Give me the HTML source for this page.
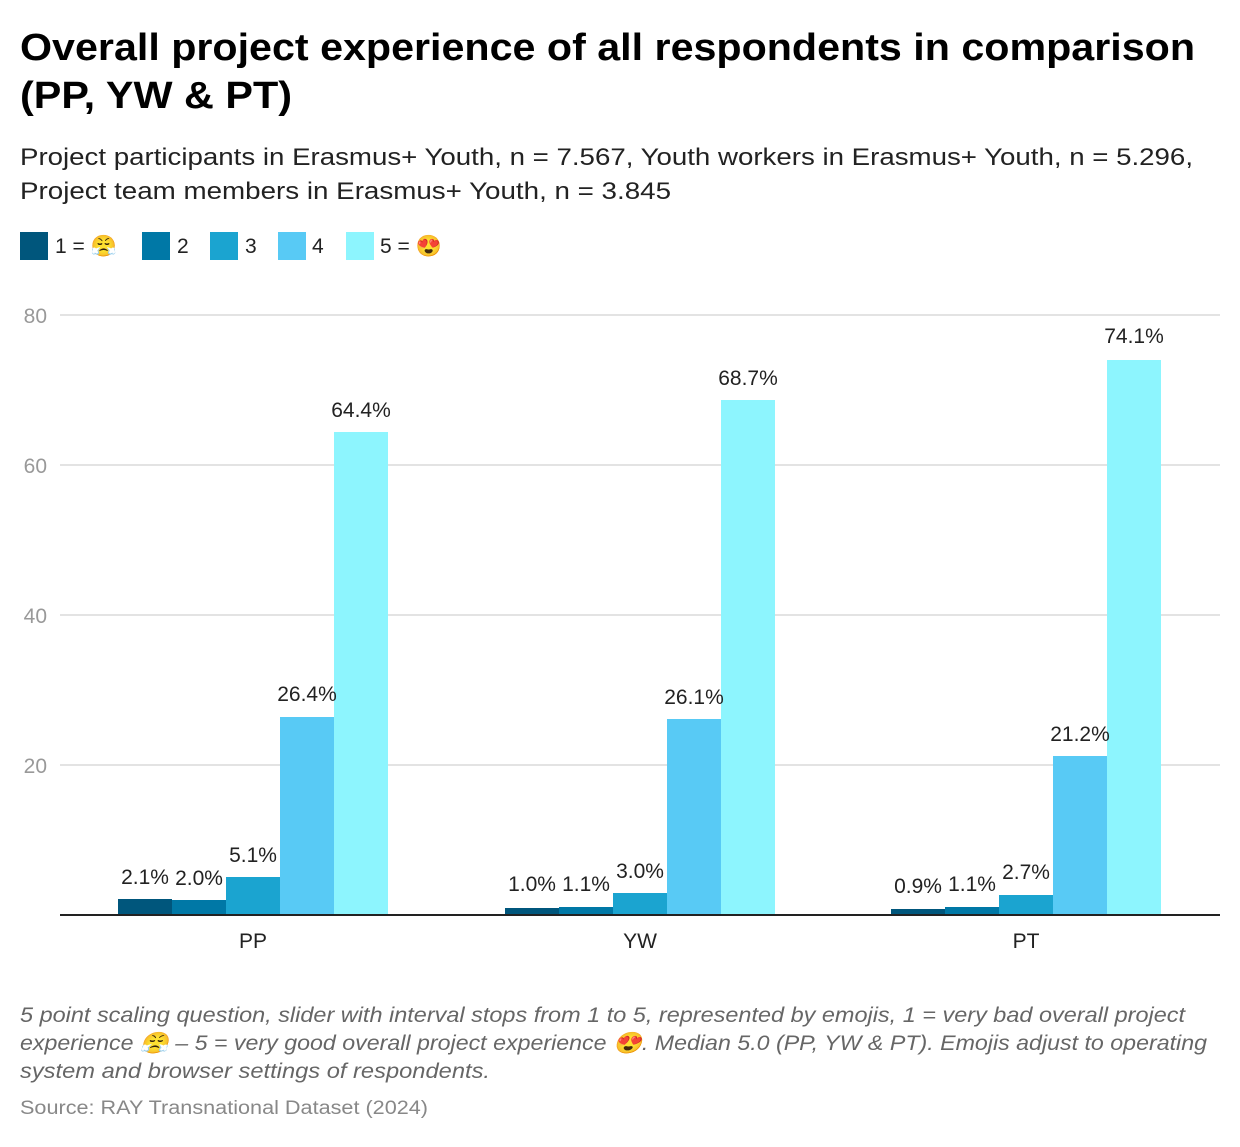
<!DOCTYPE html>
<html><head><meta charset="utf-8"><style>
body{margin:0;background:#fff;font-family:"Liberation Sans",sans-serif;}
</style></head><body>
<svg width="1240" height="1142" xmlns="http://www.w3.org/2000/svg" font-family="Liberation Sans, sans-serif">
<text x="20" y="60" font-size="38" font-weight="bold" fill="#000" textLength="1175" lengthAdjust="spacingAndGlyphs">Overall project experience of all respondents in comparison</text>
<text x="20" y="108" font-size="38" font-weight="bold" fill="#000" textLength="272" lengthAdjust="spacingAndGlyphs">(PP, YW &amp; PT)</text>
<text x="20" y="165" font-size="24" fill="#222" textLength="1173" lengthAdjust="spacingAndGlyphs">Project participants in Erasmus+ Youth, n = 7.567, Youth workers in Erasmus+ Youth, n = 5.296,</text>
<text x="20" y="199" font-size="24" fill="#222" textLength="651" lengthAdjust="spacingAndGlyphs">Project team members in Erasmus+ Youth, n = 3.845</text>
<g font-size="21" fill="#222">
<rect x="20" y="232" width="28" height="28" fill="#00567c"/><text x="55" y="253">1 = 😤</text>
<rect x="142" y="232" width="28" height="28" fill="#0078a6"/><text x="177" y="253">2</text>
<rect x="210" y="232" width="28" height="28" fill="#1ba4d0"/><text x="245" y="253">3</text>
<rect x="278" y="232" width="28" height="28" fill="#58caf5"/><text x="312" y="253">4</text>
<rect x="346" y="232" width="28" height="28" fill="#8df5fe"/><text x="380" y="253">5 = 😍</text>
</g>
<g stroke="#e3e3e3" stroke-width="2">
<line x1="60" y1="315" x2="1220" y2="315"/><line x1="60" y1="465" x2="1220" y2="465"/>
<line x1="60" y1="615" x2="1220" y2="615"/><line x1="60" y1="765" x2="1220" y2="765"/>
</g>
<g font-size="21" fill="#999" text-anchor="end">
<text x="47" y="323">80</text><text x="47" y="473">60</text><text x="47" y="623">40</text><text x="47" y="773">20</text>
</g>
<g>
<rect x="118" y="899" width="54" height="16" fill="#00567c"/>
<rect x="172" y="900" width="54" height="15" fill="#0078a6"/>
<rect x="226" y="877" width="54" height="38" fill="#1ba4d0"/>
<rect x="280" y="717" width="54" height="198" fill="#58caf5"/>
<rect x="334" y="432" width="54" height="483" fill="#8df5fe"/>
<rect x="505" y="908" width="54" height="7" fill="#00567c"/>
<rect x="559" y="907" width="54" height="8" fill="#0078a6"/>
<rect x="613" y="893" width="54" height="22" fill="#1ba4d0"/>
<rect x="667" y="719" width="54" height="196" fill="#58caf5"/>
<rect x="721" y="400" width="54" height="515" fill="#8df5fe"/>
<rect x="891" y="909" width="54" height="6" fill="#00567c"/>
<rect x="945" y="907" width="54" height="8" fill="#0078a6"/>
<rect x="999" y="895" width="54" height="20" fill="#1ba4d0"/>
<rect x="1053" y="756" width="54" height="159" fill="#58caf5"/>
<rect x="1107" y="360" width="54" height="555" fill="#8df5fe"/>
</g>
<line x1="60" y1="915" x2="1220" y2="915" stroke="#222" stroke-width="2"/>
<g font-size="21" fill="#222" text-anchor="middle">
<text x="145" y="884">2.1%</text><text x="199" y="885">2.0%</text><text x="253" y="862">5.1%</text><text x="307" y="701">26.4%</text><text x="361" y="417">64.4%</text>
<text x="532" y="891">1.0%</text><text x="586" y="891">1.1%</text><text x="640" y="878">3.0%</text><text x="694" y="704">26.1%</text><text x="748" y="385">68.7%</text>
<text x="918" y="893">0.9%</text><text x="972" y="891">1.1%</text><text x="1026" y="879">2.7%</text><text x="1080" y="741">21.2%</text><text x="1134" y="343">74.1%</text>
</g>
<g font-size="21" fill="#222" text-anchor="middle">
<text x="253" y="948">PP</text><text x="640" y="948">YW</text><text x="1026" y="948">PT</text>
</g>
<g font-size="21" fill="#666" font-style="italic">
<text x="20" y="1022" textLength="1165" lengthAdjust="spacingAndGlyphs">5 point scaling question, slider with interval stops from 1 to 5, represented by emojis, 1 = very bad overall project</text>
<text x="20" y="1050" textLength="1187" lengthAdjust="spacingAndGlyphs">experience 😤 – 5 = very good overall project experience 😍. Median 5.0 (PP, YW &amp; PT). Emojis adjust to operating</text>
<text x="20" y="1078" textLength="470" lengthAdjust="spacingAndGlyphs">system and browser settings of respondents.</text>
</g>
<text x="20" y="1114" font-size="19" fill="#888" textLength="408" lengthAdjust="spacingAndGlyphs">Source: RAY Transnational Dataset (2024)</text>
</svg>
</body></html>
